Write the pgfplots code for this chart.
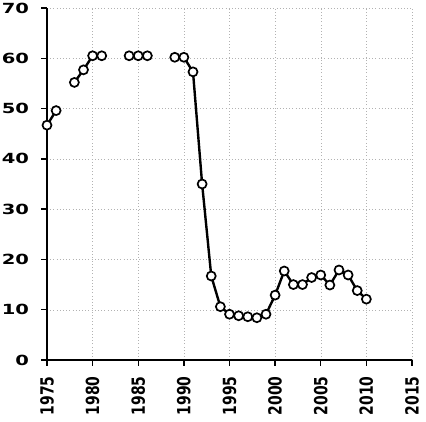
\documentclass[border=0pt]{standalone}
\usepackage{pgfplots}
\pgfplotsset{compat=1.18}
\usepackage{fontspec}
\setmainfont{DejaVu Sans}
\begin{document}
\begin{tikzpicture}
\begin{axis}[
  scale only axis, width=365bp, height=352bp,
  xmin=1975, xmax=2015, ymin=0, ymax=70,
  xtick={1975,1980,...,2015}, ytick={0,10,...,70},
  separate axis lines,
  axis x line*=bottom, axis y line*=left,
  axis line style={-, line width=1.5pt},
  tick style={black, line width=1.5pt}, tick align=outside, major tick length=6bp,
  /pgf/number format/assume math mode=true,
  /pgf/number format/1000 sep={},
  tick label style={font=\bfseries\fontsize{14}{14}\selectfont},
  yticklabel style={xscale=1.4, xshift=-5bp},
  xticklabel style={rotate=90, yscale=1.3, anchor=east, xshift=-7bp},
  grid=major, grid style={gray!60, line width=0.4pt, dash pattern=on 0.6pt off 2.6pt},
  unbounded coords=jump, clip=false,
]
\addplot[black, line width=2.4pt, mark=*, mark size=4.5bp,
  mark options={fill=white, draw=black, line width=1.7pt, solid}] table {
x y
1975 46.7
1976 49.6
1977 nan
1978 55.2
1979 57.7
1980 60.5
1981 60.5
1982 nan
1983 nan
1984 60.5
1985 60.5
1986 60.5
1987 nan
1988 nan
1989 60.2
1990 60.2
1991 57.3
1992 35.0
1993 16.7
1994 10.6
1995 9.1
1996 8.8
1997 8.6
1998 8.4
1999 9.1
2000 12.9
2001 17.7
2002 15.0
2003 15.0
2004 16.4
2005 16.9
2006 14.9
2007 17.9
2008 16.9
2009 13.8
2010 12.1
};
\end{axis}
\pgfresetboundingbox
\path ([shift={(-47bp,-62bp)}]current axis.south west) rectangle ([shift={(14bp,8bp)}]current axis.north east);
\end{tikzpicture}
\end{document}
